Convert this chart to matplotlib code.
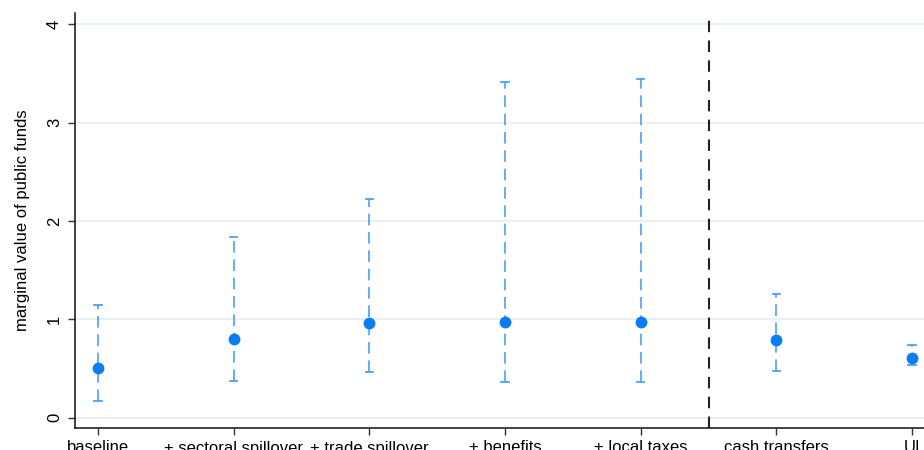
import matplotlib
matplotlib.use("Agg")
import matplotlib.pyplot as plt

categories = ["baseline", "+ sectoral spillover", "+ trade spillover", "+ benefits",
              "+ local taxes", "cash transfers", "UI"]
estimates = [0.50, 0.80, 0.96, 0.975, 0.975, 0.79, 0.61]
lower = [0.173, 0.373, 0.467, 0.363, 0.36, 0.47, 0.533]
upper = [1.145, 1.833, 2.222, 3.415, 3.439, 1.26, 0.739]
yticks = [0, 1, 2, 3, 4]
divider = 5.5

plt.rcParams['font.family'] = ['Liberation Sans', 'DejaVu Sans']

fig = plt.figure(figsize=(9.24, 4.5), dpi=100)
ax = fig.add_axes([74.5/924, 22/450, 1 - 74.5/924, (428-13.3)/450])

xs = list(range(1, len(categories) + 1))
point_color = "#0a7df5"
bar_color = "#4aa0f5"

for x, lo, hi in zip(xs, lower, upper):
    ax.plot([x, x], [lo, hi], color=bar_color, lw=1.2, linestyle=(0, (7, 4)), zorder=2)
    ax.plot([x - 0.028, x + 0.028], [lo, lo], color=bar_color, lw=1.3, zorder=2)
    ax.plot([x - 0.028, x + 0.028], [hi, hi], color=bar_color, lw=1.3, zorder=2)

ax.plot(xs, estimates, 'o', color=point_color, markersize=7.5, zorder=3)

ax.axvline(divider, color="#222222", lw=1.5, linestyle=(0, (5.5, 4)), zorder=2)

ax.set_xlim(0.827, 7.088)
ax.set_ylim(-0.105, 4.11)
ax.set_yticks(yticks)
ax.set_yticklabels([str(t) for t in yticks], rotation=90, va='center', fontsize=12)
ax.set_xticks(xs)
ax.set_xticklabels(categories, fontsize=12)
ax.tick_params(axis='both', length=5, width=1, color="#333333", pad=4)
ax.yaxis.grid(True, color="#e8f0f1", lw=1.5)
ax.set_axisbelow(True)
for s in ['top', 'right']:
    ax.spines[s].set_visible(False)
for s in ['left', 'bottom']:
    ax.spines[s].set_color("#111111")
    ax.spines[s].set_linewidth(1.1)
ax.set_ylabel("marginal value of public funds", fontsize=12)
ax.yaxis.set_label_coords(-(74.5 - 30) / (924 - 74.5), 0.5)

fig.savefig("out.png", dpi=100)
